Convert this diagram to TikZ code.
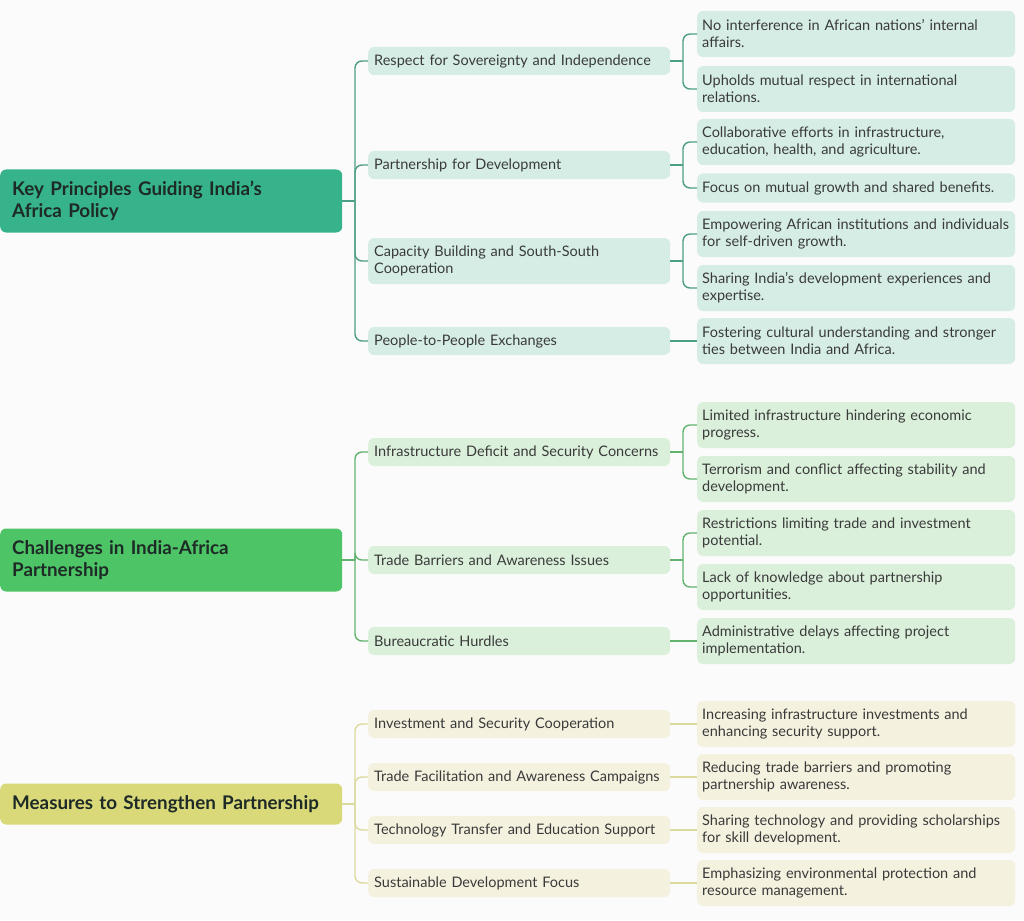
\documentclass[tikz,border=0pt]{standalone}
\usepackage{fontspec}
\setmainfont{Lato}
\definecolor{bg}{HTML}{FCFBFB}
\definecolor{txt}{HTML}{3A3A3A}
\definecolor{rtxt}{HTML}{1E2A26}
\definecolor{rootA}{HTML}{36B38A}
\definecolor{rootB}{HTML}{4DC466}
\definecolor{rootC}{HTML}{DAD97A}
\definecolor{lineA}{HTML}{4D9E87}
\definecolor{lineB}{HTML}{62B36E}
\definecolor{lineC}{HTML}{DCDA9E}
\definecolor{fillA}{HTML}{D5EDE5}
\definecolor{fillB}{HTML}{DAF0DB}
\definecolor{fillC}{HTML}{F4F1DF}
\tikzset{
  rootbox/.style={rounded corners=6pt, anchor=west, inner xsep=12pt, inner ysep=0pt,
    text width=318pt, minimum height=63pt, align=left, text=rtxt,
    font=\fontsize{18.8}{22.5}\selectfont\bfseries},
  midbox/.style={rounded corners=6pt, anchor=west, inner xsep=6pt, inner ysep=0pt,
    text width=290pt, minimum height=28pt, align=left, text=txt,
    font=\fontsize{14.5}{17}\selectfont},
  leafbox/.style={rounded corners=6pt, anchor=west, inner xsep=5pt, inner ysep=0pt,
    text width=308pt, minimum height=46pt, align=left, text=txt,
    font=\fontsize{14.5}{17}\selectfont},
  conn/.style={line width=1.4pt, rounded corners=7pt},
}
\begin{document}
\hyphenpenalty=10000
\begin{tikzpicture}[x=1pt,y=-1pt]
\useasboundingbox[fill=bg] (0,0) rectangle (1024,920);

% ---------- Group 1 ----------
\node[rootbox, fill=rootA] (r1) at (0,201) {Key Principles Guiding India’s\\Africa Policy};
\node[midbox, fill=fillA] (a1) at (368,61) {Respect for Sovereignty and Independence};
\node[midbox, fill=fillA] (a2) at (368,165) {Partnership for Development};
\node[midbox, fill=fillA, minimum height=46pt] (a3) at (368,261) {Capacity Building and South-South\\Cooperation};
\node[midbox, fill=fillA] (a4) at (368,341) {People-to-People Exchanges};

\node[leafbox, fill=fillA] (a1x) at (697,34) {No interference in African nations’ internal\\affairs.};
\node[leafbox, fill=fillA] (a1y) at (697,89) {Upholds mutual respect in international\\relations.};
\node[leafbox, fill=fillA] (a2x) at (697,142) {Collaborative efforts in infrastructure,\\education, health, and agriculture.};
\node[leafbox, fill=fillA, minimum height=29pt] (a2y) at (697,188) {Focus on mutual growth and shared benefits.};
\node[leafbox, fill=fillA] (a3x) at (697,234) {Empowering African institutions and individuals\\for self-driven growth.};
\node[leafbox, fill=fillA] (a3y) at (697,288) {Sharing India’s development experiences and\\expertise.};
\node[leafbox, fill=fillA] (a4x) at (697,341) {Fostering cultural understanding and stronger\\ties between India and Africa.};

\coordinate (ja) at (355,201);
\draw[conn, lineA] (r1.east) -- (ja);
\foreach \n in {a1,a2,a3,a4} \draw[conn, lineA] (ja) |- (\n.west);
\coordinate (ja1) at (683,61);
\coordinate (ja2) at (683,165);
\coordinate (ja3) at (683,261);
\draw[conn, lineA] (a1.east) -- (ja1);
\draw[conn, lineA] (ja1) |- (a1x.west);
\draw[conn, lineA] (ja1) |- (a1y.west);
\draw[conn, lineA] (a2.east) -- (ja2);
\draw[conn, lineA] (ja2) |- (a2x.west);
\draw[conn, lineA] (ja2) |- (a2y.west);
\draw[conn, lineA] (a3.east) -- (ja3);
\draw[conn, lineA] (ja3) |- (a3x.west);
\draw[conn, lineA] (ja3) |- (a3y.west);
\draw[conn, lineA] (a4.east) -- (a4x.west);

% ---------- Group 2 ----------
\node[rootbox, fill=rootB] (r2) at (0,560) {Challenges in India-Africa\\Partnership};
\node[midbox, fill=fillB] (b1) at (368,452) {Infrastructure Deficit and Security Concerns};
\node[midbox, fill=fillB] (b2) at (368,560) {Trade Barriers and Awareness Issues};
\node[midbox, fill=fillB] (b3) at (368,641) {Bureaucratic Hurdles};

\node[leafbox, fill=fillB] (b1x) at (697,425) {Limited infrastructure hindering economic\\progress.};
\node[leafbox, fill=fillB] (b1y) at (697,479) {Terrorism and conflict affecting stability and\\development.};
\node[leafbox, fill=fillB] (b2x) at (697,533) {Restrictions limiting trade and investment\\potential.};
\node[leafbox, fill=fillB] (b2y) at (697,587) {Lack of knowledge about partnership\\opportunities.};
\node[leafbox, fill=fillB] (b3x) at (697,641) {Administrative delays affecting project\\implementation.};

\coordinate (jb) at (355,560);
\draw[conn, lineB] (r2.east) -- (jb);
\foreach \n in {b1,b2,b3} \draw[conn, lineB] (jb) |- (\n.west);
\coordinate (jb1) at (683,452);
\coordinate (jb2) at (683,560);
\draw[conn, lineB] (b1.east) -- (jb1);
\draw[conn, lineB] (jb1) |- (b1x.west);
\draw[conn, lineB] (jb1) |- (b1y.west);
\draw[conn, lineB] (b2.east) -- (jb2);
\draw[conn, lineB] (jb2) |- (b2x.west);
\draw[conn, lineB] (jb2) |- (b2y.west);
\draw[conn, lineB] (b3.east) -- (b3x.west);

% ---------- Group 3 ----------
\node[rootbox, fill=rootC, minimum height=41pt] (r3) at (0,804) {Measures to Strengthen Partnership};
\node[midbox, fill=fillC] (c1) at (368,724) {Investment and Security Cooperation};
\node[midbox, fill=fillC] (c2) at (368,777) {Trade Facilitation and Awareness Campaigns};
\node[midbox, fill=fillC] (c3) at (368,830) {Technology Transfer and Education Support};
\node[midbox, fill=fillC] (c4) at (368,883) {Sustainable Development Focus};

\node[leafbox, fill=fillC] (c1x) at (697,724) {Increasing infrastructure investments and\\enhancing security support.};
\node[leafbox, fill=fillC] (c2x) at (697,777) {Reducing trade barriers and promoting\\partnership awareness.};
\node[leafbox, fill=fillC] (c3x) at (697,830) {Sharing technology and providing scholarships\\for skill development.};
\node[leafbox, fill=fillC] (c4x) at (697,883) {Emphasizing environmental protection and\\resource management.};

\coordinate (jc) at (355,804);
\draw[conn, lineC] (r3.east) -- (jc);
\foreach \n in {c1,c2,c3,c4} \draw[conn, lineC] (jc) |- (\n.west);
\foreach \n in {c1,c2,c3,c4} \draw[conn, lineC] (\n.east) -- (\n x.west);
\end{tikzpicture}
\end{document}
